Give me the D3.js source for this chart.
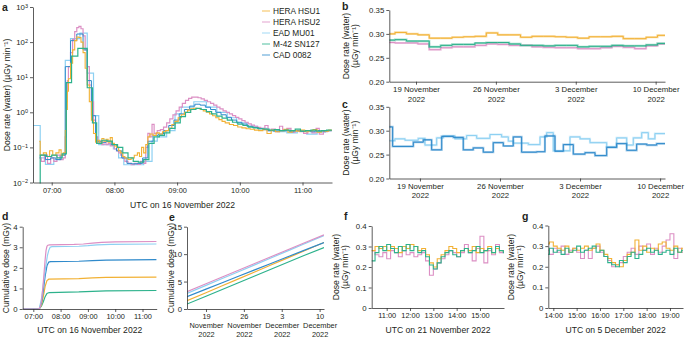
<!DOCTYPE html>
<html><head><meta charset="utf-8">
<script src="https://cdn.jsdelivr.net/npm/d3@7"></script>
<style>
body{margin:0;background:#fff}
svg text{font-family:"Liberation Sans",Arial,Helvetica,sans-serif;fill:#231f20}
.axis path,.axis line{stroke:#333;stroke-width:0.8}
</style></head><body>
<svg id="chart" width="685" height="340"></svg>
<script>
// ---------- DATA ----------
const seriesNames = ["HERA HSU1","HERA HSU2","EAD MU01","M-42 SN127","CAD 0082"];
const seriesColors = ["#f2b134","#dc8fc4","#8dd0f2","#2db28c","#2f8acb"];

// Panel a: [minutes after 07:00, dose rate µGy/min], step series
const aHSU1 = [[-12,0.15],[-11,0.06],[-8,0.07],[-5,0.055],[-2,0.08],[1,0.06],[4,0.07],[7,0.085],[9,0.06],[11,0.07],[13,0.3],[14,1.2],[15,4],[16,9],[18,25],[20,60],[22,110],[24,140],[26,135],[28,100],[30,50],[32,18],[34,6],[36,2],[38,0.6],[40,0.25],[42,0.14],[44,0.16],[46,0.13],[48,0.18],[50,0.15],[52,0.17],[54,0.14],[56,0.19],[58,0.13],[60,0.11],[62,0.1],[64,0.08],[66,0.07],[68,0.055],[70,0.05],[73,0.045],[76,0.05],[79,0.06],[82,0.07],[84,0.055],[86,0.1],[88,0.07],[90,0.12],[92,0.2],[94,0.24],[97,0.22],[100,0.26],[103,0.24],[106,0.28],[109,0.3],[112,0.35],[115,0.45],[118,0.55],[121,0.7],[124,0.85],[127,1.0],[130,1.15],[133,1.25],[136,1.3],[139,1.28],[142,1.2],[145,1.1],[148,1.0],[151,0.9],[154,0.8],[157,0.7],[160,0.62],[163,0.55],[166,0.5],[170,0.45],[174,0.42],[178,0.38],[182,0.36],[186,0.34],[190,0.33],[194,0.31],[198,0.3],[202,0.32],[206,0.25],[210,0.31],[214,0.28],[218,0.3],[222,0.33],[226,0.27],[230,0.3],[234,0.29],[238,0.31],[242,0.28],[246,0.3],[250,0.32],[254,0.27],[258,0.3],[262,0.29],[265,0.31]];
const aHSU2 = [[-12,0.05],[-10,0.04],[-7,0.06],[-4,0.035],[-1,0.05],[2,0.04],[5,0.06],[8,0.045],[11,0.05],[13,0.2],[14,2],[15,8],[16,20],[18,50],[20,120],[22,200],[24,260],[26,280],[28,240],[30,150],[32,60],[34,20],[36,6],[38,2],[40,0.6],[42,0.2],[44,0.13],[46,0.15],[48,0.12],[50,0.14],[52,0.12],[54,0.13],[56,0.11],[58,0.12],[60,0.09],[62,0.08],[64,0.07],[66,0.06],[68,0.05],[70,0.04],[73,0.035],[76,0.032],[79,0.035],[82,0.033],[85,0.04],[88,0.035],[90,0.1],[92,0.25],[94,0.2],[96,0.45],[98,0.25],[101,0.3],[104,0.32],[107,0.38],[110,0.5],[113,0.65],[116,0.85],[119,1.1],[122,1.4],[125,1.8],[128,2.2],[131,2.5],[134,2.7],[137,2.7],[140,2.6],[143,2.4],[146,2.2],[149,2.0],[152,1.8],[155,1.6],[158,1.4],[161,1.25],[164,1.1],[167,1.0],[170,0.9],[173,0.8],[176,0.72],[179,0.65],[182,0.58],[185,0.52],[188,0.47],[191,0.43],[194,0.4],[197,0.37],[200,0.35],[204,0.42],[207,0.3],[210,0.33],[214,0.28],[218,0.4],[221,0.3],[225,0.35],[229,0.27],[233,0.3],[237,0.28],[241,0.25],[245,0.3],[249,0.26],[253,0.35],[256,0.24],[260,0.28],[264,0.3]];
const aEAD = [[-18,0.42],[-11,0.05],[-6,0.033],[2,0.045],[8,0.06],[13,30],[18,125],[27,180],[34,13],[40,0.8],[45,0.12],[59,0.09],[64,0.05],[69,0.032],[88,0.04],[96,0.15],[101,0.2],[110,0.3],[118,0.9],[124,1.4],[136,2.0],[148,1.4],[158,1.0],[168,0.7],[177,0.5],[187,0.4],[197,0.35],[206,0.3],[216,0.28],[225,0.26],[235,0.3],[244,0.24],[254,0.27],[262,0.3]];
const aM42 = [[-11.3,0.005],[-11,0.06],[-5,0.055],[0,0.06],[5,0.05],[10,0.065],[14,7],[19,40],[25,66],[34,5],[39,0.5],[43,0.13],[48,0.16],[53,0.15],[58,0.12],[63,0.1],[68,0.07],[73,0.05],[78,0.04],[83,0.038],[88,0.045],[93,0.13],[98,0.2],[103,0.22],[108,0.26],[113,0.35],[118,0.5],[123,0.75],[128,1.0],[133,1.2],[138,1.3],[143,1.2],[148,1.05],[153,0.9],[158,0.78],[163,0.68],[168,0.6],[173,0.52],[178,0.46],[183,0.42],[188,0.38],[193,0.36],[198,0.34],[203,0.33],[208,0.31],[213,0.32],[218,0.3],[223,0.31],[228,0.3],[233,0.33],[238,0.29],[243,0.3],[248,0.31],[253,0.29],[258,0.3],[263,0.31]];
const aCAD = [[-11,0.06],[-6,0.045],[-1,0.05],[4,0.045],[9,0.06],[13,20],[18,110],[24,170],[30,60],[34,8],[38,0.8],[42,0.15],[47,0.14],[52,0.15],[57,0.12],[62,0.08],[67,0.05],[72,0.035],[77,0.034],[82,0.035],[87,0.05],[92,0.15],[97,0.22],[102,0.24],[107,0.3],[112,0.42],[117,0.6],[122,0.9],[127,1.2],[132,1.5],[137,1.7],[142,1.6],[147,1.4],[152,1.2],[157,1.0],[162,0.85],[167,0.72],[172,0.6],[177,0.52],[182,0.46],[187,0.4],[192,0.37],[197,0.34],[202,0.32],[207,0.3],[212,0.29],[217,0.3],[222,0.31],[227,0.28],[232,0.3],[237,0.29],[242,0.3],[247,0.28],[252,0.3],[257,0.29],[262,0.3]];
const aEnd = 268;
const aTickVals = [0,60,120,180,240];
const aTickLabels = ["07:00","08:00","09:00","10:00","11:00"];
const aYTicks = [1e-2,1e-1,1e0,1e1,1e2,1e3];
const aYExp = ["−2","−1","0","1","2","3"];

// Panel b: day of November 2022 (Dec 1 = 31), daily mean dose rate
const bDays = [16.66,17.16,18.16,19.16,20.16,21.16,22.16,23.16,24.16,25.16,26.16,27.16,28.16,29.16,30.16,31.16,32.16,33.16,34.16,35.16,36.16,37.16,38.16,39.16,40.16];
const bHSU1 = [0.300,0.303,0.300,0.298,0.291,0.291,0.293,0.294,0.295,0.302,0.298,0.298,0.293,0.295,0.295,0.294,0.293,0.291,0.294,0.294,0.295,0.290,0.290,0.293,0.297];
const bHSU2 = [0.282,0.281,0.281,0.279,0.267,0.271,0.273,0.273,0.276,0.279,0.278,0.276,0.276,0.273,0.272,0.271,0.271,0.269,0.269,0.271,0.274,0.272,0.269,0.275,0.279];
const bM42 = [0.287,0.288,0.285,0.285,0.273,0.276,0.278,0.278,0.281,0.282,0.282,0.279,0.276,0.276,0.275,0.276,0.276,0.273,0.274,0.274,0.276,0.275,0.275,0.277,0.280];
const bEnd = 40.82;
const dateTickVals = [19,26,33,40];
const dateTickLabels = [["19 November","2022"],["26 November","2022"],["3 December","2022"],["10 December","2022"]];

// Panel c: [day, dose rate]
const cEAD = [[16.32,0.279],[16.81,0.283],[17.69,0.280],[18.85,0.284],[19.44,0.270],[20.46,0.285],[21.04,0.289],[22.06,0.283],[23.08,0.290],[23.96,0.284],[25.12,0.292],[26.14,0.287],[26.73,0.278],[27.16,0.274],[28.48,0.271],[29.5,0.287],[30.08,0.296],[30.66,0.258],[32.12,0.287],[33.0,0.283],[33.87,0.275],[35.33,0.266],[36.2,0.285],[37.08,0.270],[37.66,0.285],[38.39,0.296],[38.97,0.283],[39.55,0.294]];
const cCAD = [[16.32,0.308],[16.61,0.267],[18.42,0.276],[19.29,0.281],[20.02,0.260],[20.9,0.288],[21.92,0.286],[22.79,0.260],[23.66,0.264],[24.54,0.255],[25.41,0.275],[26.29,0.268],[27.16,0.287],[27.89,0.255],[29.2,0.256],[29.93,0.289],[30.81,0.257],[31.54,0.271],[32.41,0.251],[33.43,0.254],[34.31,0.248],[35.33,0.265],[36.2,0.273],[37.08,0.259],[37.95,0.272],[38.83,0.270],[39.7,0.273]];
const cEnd = 40.43;

// Panel d: cumulative dose (mGy), minutes after 07:00
const dHSU1 = [[-23,0],[13,0],[18,0.2],[22,0.6],[26,1.1],[30,1.38],[34,1.45],[100,1.48],[130,1.51],[160,1.54],[271,1.55]];
const dHSU2 = [[-23,0],[12,0],[14,0.05],[16,0.15],[18,0.4],[20,0.8],[22,1.3],[24,1.85],[26,2.4],[28,2.85],[30,3.05],[32,3.1],[36,3.12],[90,3.14],[110,3.16],[130,3.2],[150,3.24],[180,3.26],[271,3.28]];
const dEAD = [[-23,0],[13,0],[18,0.5],[22,1.2],[27,2.0],[31,2.6],[34,2.85],[37,3.0],[41,3.03],[100,3.05],[120,3.08],[140,3.12],[170,3.14],[271,3.16]];
const dM42 = [[-23,0],[13,0],[18,0.15],[22,0.35],[26,0.6],[30,0.76],[35,0.8],[100,0.83],[130,0.86],[160,0.88],[271,0.9]];
const dCAD = [[-23,0],[13,0],[18,0.3],[22,0.9],[26,1.6],[30,2.1],[34,2.28],[38,2.3],[100,2.32],[130,2.35],[160,2.38],[271,2.4]];

// Panel e: cumulative dose (mGy) by day
const eDays = [15.49,19,22,25,28,31,34,37,40.81];
const eHSU1 = [1.5,2.97,4.23,5.49,6.75,8.01,9.27,10.53,12.13];
const eHSU2 = [3.15,4.6,5.83,7.06,8.29,9.52,10.75,11.98,13.5];
const eEAD = [2.85,4.3,5.55,6.8,8.05,9.3,10.55,11.8,13.4];
const eM42 = [0.9,2.33,3.56,4.79,6.02,7.25,8.48,9.71,11.2];
const eCAD = [2.25,3.62,4.79,5.96,7.13,8.3,9.47,10.64,12.12];
const eTickLabels = [["19","November","2022"],["26","November","2022"],["3","December","2022"],["10","December","2022"]];

// Panel f: 21 November, 10-min steps from 10:20 (minutes since midnight)
const fStart = 620, fStep = 10, fEnd = 962;
const fHSU1 = [0.28,0.30,0.29,0.30,0.28,0.30,0.29,0.27,0.30,0.29,0.31,0.30,0.28,0.29,0.26,0.22,0.20,0.24,0.26,0.28,0.30,0.29,0.27,0.28,0.29,0.28,0.30,0.27,0.29,0.28,0.30,0.27,0.29,0.28,0.28];
const fHSU2 = [0.28,0.26,0.25,0.27,0.24,0.28,0.27,0.25,0.28,0.26,0.27,0.25,0.26,0.27,0.23,0.16,0.19,0.22,0.24,0.26,0.28,0.27,0.25,0.27,0.31,0.27,0.23,0.29,0.35,0.22,0.28,0.26,0.31,0.27,0.28];
const fM42 = [0.23,0.27,0.30,0.28,0.31,0.29,0.27,0.30,0.28,0.31,0.28,0.30,0.27,0.28,0.25,0.21,0.19,0.22,0.25,0.27,0.28,0.26,0.25,0.28,0.29,0.27,0.28,0.30,0.27,0.28,0.29,0.27,0.30,0.28,0.27];
const fTickVals = [660,720,780,840,900];
const fTickLabels = ["11:00","12:00","13:00","14:00","15:00"];

// Panel g: 5 December, 10-min steps from 13:40
const gStart = 820, gStep = 10, gEnd = 1174;
const gHSU1 = [0.31,0.32,0.30,0.29,0.28,0.30,0.27,0.29,0.28,0.29,0.30,0.28,0.29,0.31,0.28,0.26,0.24,0.22,0.21,0.20,0.23,0.26,0.27,0.33,0.28,0.30,0.27,0.29,0.28,0.31,0.32,0.29,0.28,0.30,0.27,0.29];
const gHSU2 = [0.28,0.26,0.29,0.27,0.30,0.26,0.28,0.29,0.27,0.24,0.28,0.24,0.29,0.30,0.27,0.25,0.23,0.20,0.21,0.22,0.25,0.27,0.29,0.26,0.30,0.28,0.31,0.26,0.29,0.27,0.30,0.33,0.36,0.24,0.29,0.27];
const gM42 = [0.26,0.29,0.27,0.28,0.26,0.29,0.27,0.28,0.30,0.27,0.28,0.29,0.30,0.27,0.28,0.25,0.22,0.21,0.20,0.23,0.22,0.25,0.27,0.24,0.26,0.28,0.29,0.27,0.28,0.26,0.27,0.28,0.26,0.29,0.27,0.28];
const gTickVals = [840,900,960,1020,1080,1140];
const gTickLabels = ["14:00","15:00","16:00","17:00","18:00","19:00"];

// ---------- DRAW ----------
const svg = d3.select("#chart");
const C = {HSU1:seriesColors[0],HSU2:seriesColors[1],EAD:seriesColors[2],M42:seriesColors[3],CAD:seriesColors[4]};
const TICK = 7.8, TIMETICK = 7.4, TITLE = 8.6;
let clipId = 0;

function clip(x0,y0,x1,y1){
  const id = "cl"+(clipId++);
  svg.append("clipPath").attr("id",id).append("rect").attr("x",x0).attr("y",y0-1).attr("width",x1-x0).attr("height",y1-y0+2);
  return "url(#"+id+")";
}
function withEnd(pairs,end){ const p = pairs.slice(); p.push([end,pairs[pairs.length-1][1]]); return p; }
function zipPairs(xs,vs){ return vs.map((v,i)=>[xs[i],v]); }
function gridPairs(start,step,vs){ const xs = d3.range(vs.length).map(i=>start+i*step); return zipPairs(xs,vs); }

function drawSeries(g,x,y,pairs,color,opts={}){
  const line = d3.line().x(d=>x(d[0])).y(d=>y(d[1]));
  if(opts.step) line.curve(d3.curveStepAfter);
  if(opts.halo){
    g.append("path").attr("d",line(pairs)).attr("fill","none").attr("stroke",color)
     .attr("stroke-width",opts.halo).attr("stroke-opacity",0.45);
  }
  g.append("path").attr("d",line(pairs)).attr("fill","none").attr("stroke",color)
   .attr("stroke-width",opts.w||1.1).attr("stroke-linejoin","miter");
}
function xAxis(x,yPos,vals,labels,fs){
  const ax = svg.append("g").attr("class","axis").attr("transform",`translate(0,${yPos})`)
    .call(d3.axisBottom(x).tickValues(vals).tickSize(3).tickSizeOuter(0).tickPadding(2).tickFormat(""));
  ax.selectAll(".tick").each(function(d,i){
    const t = d3.select(this).append("text").attr("y",5).attr("text-anchor","middle").style("font-size",(fs||TICK)+"px");
    const lab = labels[i];
    const lines = Array.isArray(lab)?lab:[lab];
    lines.forEach((s,j)=>t.append("tspan").attr("x",0).attr("dy",j===0?"0.71em":"1.2em").text(s));
  });
  return ax;
}
function yAxis(y,xPos,vals,fmt){
  const ax = svg.append("g").attr("class","axis").attr("transform",`translate(${xPos},0)`)
    .call(d3.axisLeft(y).tickValues(vals).tickSize(3).tickSizeOuter(0).tickPadding(2).tickFormat(fmt));
  ax.selectAll("text").style("font-size",TICK+"px").attr("fill","#231f20");
  return ax;
}
function label(txt,x,y){ svg.append("text").attr("x",x).attr("y",y).style("font-size","10.5px").style("font-weight","bold").text(txt); }
function yTitle(lines,x,yc){
  lines.forEach((s,i)=>{
    svg.append("text").attr("transform",`translate(${x+i*9},${yc}) rotate(-90)`).attr("text-anchor","middle")
      .style("font-size",TITLE+"px").text(s);
  });
}
function xTitle(s,xc,y){ svg.append("text").attr("x",xc).attr("y",y).attr("text-anchor","middle").style("font-size",TITLE+"px").text(s); }

// ===== Panel a =====
{
  const x = d3.scaleLinear().domain([-17.9,268.2]).range([33,332]);
  const y = d3.scaleLog().domain([1e-2,1e3]).range([182.5,7]);
  const g = svg.append("g").attr("clip-path",clip(33,7,332,182.5));
  drawSeries(g,x,y,withEnd(aEAD,aEnd),C.EAD,{step:true,w:1.2});
  drawSeries(g,x,y,withEnd(aHSU2,aEnd),C.HSU2,{step:true,w:1.2});
  drawSeries(g,x,y,withEnd(aCAD,aEnd),C.CAD,{step:true,w:1.0});
  drawSeries(g,x,y,withEnd(aHSU1,aEnd),C.HSU1,{step:true,w:1.1});
  drawSeries(g,x,y,withEnd(aM42,aEnd),C.M42,{step:true,w:1.2});
  xAxis(x,182.5,aTickVals,aTickLabels,TIMETICK);
  const ya = yAxis(y,33,aYTicks,"");
  ya.selectAll(".tick").each(function(d,i){
    const t = d3.select(this).append("text").attr("x",-5).attr("dy","0.32em").attr("text-anchor","end").style("font-size",TICK+"px");
    t.append("tspan").text("10");
    t.append("tspan").attr("dy","-0.45em").style("font-size","5.5px").text(aYExp[i]);
  });
  label("a",2,11);
  yTitle(["Dose rate (water) (µGy min⁻¹)"],10,95);
  xTitle("UTC on 16 November 2022",182.5,207.5);
  // legend
  const lg = svg.append("g");
  seriesNames.forEach((n,i)=>{
    const yy = 11 + i*11;
    lg.append("line").attr("x1",262).attr("x2",270).attr("y1",yy).attr("y2",yy).attr("stroke",seriesColors[i]).attr("stroke-width",1.4).attr("stroke-opacity",0.6);
    lg.append("text").attr("x",273).attr("y",yy).attr("dy","0.35em").style("font-size","8.3px").text(n);
  });
}

// ===== Panel b =====
{
  const x = d3.scaleLinear().domain([16.66,40.82]).range([389.3,665]);
  const y = d3.scaleLinear().domain([0.2,0.35]).range([81.7,10]);
  const g = svg.append("g").attr("clip-path",clip(389.3,10,665,81.7));
  drawSeries(g,x,y,withEnd(zipPairs(bDays,bHSU2),bEnd),C.HSU2,{step:true,w:1.0,halo:2.2});
  drawSeries(g,x,y,withEnd(zipPairs(bDays,bM42),bEnd),C.M42,{step:true,w:1.0,halo:2.2});
  drawSeries(g,x,y,withEnd(zipPairs(bDays,bHSU1),bEnd),C.HSU1,{step:true,w:1.0,halo:2.2});
  xAxis(x,81.7,dateTickVals,dateTickLabels);
  yAxis(y,389.3,[0.2,0.25,0.3,0.35],d3.format(".2f"));
  label("b",342,10);
  yTitle(["Dose rate (water)","(µGy min⁻¹)"],349,46);
}

// ===== Panel c =====
{
  const x = d3.scaleLinear().domain([16.32,40.43]).range([389.3,665]);
  const y = d3.scaleLinear().domain([0.2,0.35]).range([178.5,106.8]);
  const g = svg.append("g").attr("clip-path",clip(389.3,106.8,665,178.5));
  drawSeries(g,x,y,withEnd(cEAD,cEnd),C.EAD,{step:true,w:1.0,halo:2.2});
  drawSeries(g,x,y,withEnd(cCAD,cEnd),C.CAD,{step:true,w:1.0,halo:2.2});
  xAxis(x,178.5,dateTickVals,dateTickLabels);
  yAxis(y,389.3,[0.2,0.25,0.3,0.35],d3.format(".2f"));
  label("c",342,108);
  yTitle(["Dose rate (water)","(µGy min⁻¹)"],349,142.6);
}

// ===== Panel d =====
{
  const x = d3.scaleLinear().domain([-23.3,271.2]).range([22.7,156.7]);
  const y = d3.scaleLinear().domain([0,4]).range([309,226.7]);
  const g = svg.append("g").attr("clip-path",clip(22.7,226.7,156.7,309));
  drawSeries(g,x,y,dM42,C.M42,{w:1.2});
  drawSeries(g,x,y,dHSU1,C.HSU1,{w:1.2});
  drawSeries(g,x,y,dCAD,C.CAD,{w:1.2});
  drawSeries(g,x,y,dEAD,C.EAD,{w:1.2});
  drawSeries(g,x,y,dHSU2,C.HSU2,{w:1.2});
  xAxis(x,309,aTickVals,aTickLabels,TIMETICK);
  yAxis(y,22.7,[0,1,2,3,4],d3.format("d"));
  label("d",2,220);
  yTitle(["Cumulative dose (mGy)"],9,268);
  xTitle("UTC on 16 November 2022",89.7,333);
}

// ===== Panel e =====
{
  const x = d3.scaleLinear().domain([15.49,40.81]).range([187,324]);
  const y = d3.scaleLinear().domain([0,15]).range([309,226.7]);
  const g = svg.append("g").attr("clip-path",clip(187,226.7,324,309));
  drawSeries(g,x,y,zipPairs(eDays,eM42),C.M42,{w:1.2});
  drawSeries(g,x,y,zipPairs(eDays,eHSU1),C.HSU1,{w:1.2});
  drawSeries(g,x,y,zipPairs(eDays,eCAD),C.CAD,{w:1.2});
  drawSeries(g,x,y,zipPairs(eDays,eEAD),C.EAD,{w:1.2});
  drawSeries(g,x,y,zipPairs(eDays,eHSU2),C.HSU2,{w:1.2});
  xAxis(x,309,dateTickVals,eTickLabels,7.4);
  yAxis(y,187,[0,5,10,15],d3.format("d"));
  label("e",169,220.5);
  yTitle(["Cumulative dose (mGy)"],174,268);
}

// ===== Panel f =====
{
  const x = d3.scaleLinear().domain([621.4,961.8]).range([371.7,504]);
  const y = d3.scaleLinear().domain([0,0.4]).range([308,226]);
  const g = svg.append("g").attr("clip-path",clip(371.7,226,504,308));
  drawSeries(g,x,y,withEnd(gridPairs(fStart,fStep,fHSU2),fEnd),C.HSU2,{step:true,w:1.1});
  drawSeries(g,x,y,withEnd(gridPairs(fStart,fStep,fHSU1),fEnd),C.HSU1,{step:true,w:1.1});
  drawSeries(g,x,y,withEnd(gridPairs(fStart,fStep,fM42),fEnd),C.M42,{step:true,w:1.1});
  xAxis(x,308,fTickVals,fTickLabels,TIMETICK);
  yAxis(y,371.7,[0,0.1,0.2,0.3,0.4],d=>d===0?"0":d3.format(".1f")(d));
  label("f",344,220);
  yTitle(["Dose rate (water)","(µGy min⁻¹)"],339,267);
  xTitle("UTC on 21 November 2022",438,333);
}

// ===== Panel g =====
{
  const x = d3.scaleLinear().domain([827.1,1173.5]).range([548.3,683]);
  const y = d3.scaleLinear().domain([0,0.4]).range([308,225.5]);
  const g = svg.append("g").attr("clip-path",clip(548.3,225.5,683,308));
  drawSeries(g,x,y,withEnd(gridPairs(gStart,gStep,gHSU2),gEnd),C.HSU2,{step:true,w:1.1});
  drawSeries(g,x,y,withEnd(gridPairs(gStart,gStep,gHSU1),gEnd),C.HSU1,{step:true,w:1.1});
  drawSeries(g,x,y,withEnd(gridPairs(gStart,gStep,gM42),gEnd),C.M42,{step:true,w:1.1});
  xAxis(x,308,gTickVals,gTickLabels,TIMETICK);
  yAxis(y,548.3,[0,0.1,0.2,0.3,0.4],d=>d===0?"0":d3.format(".1f")(d));
  label("g",522,220);
  yTitle(["Dose rate (water)","(µGy min⁻¹)"],514,267);
  xTitle("UTC on 5 December 2022",615.6,333);
}
</script>
</body></html>
